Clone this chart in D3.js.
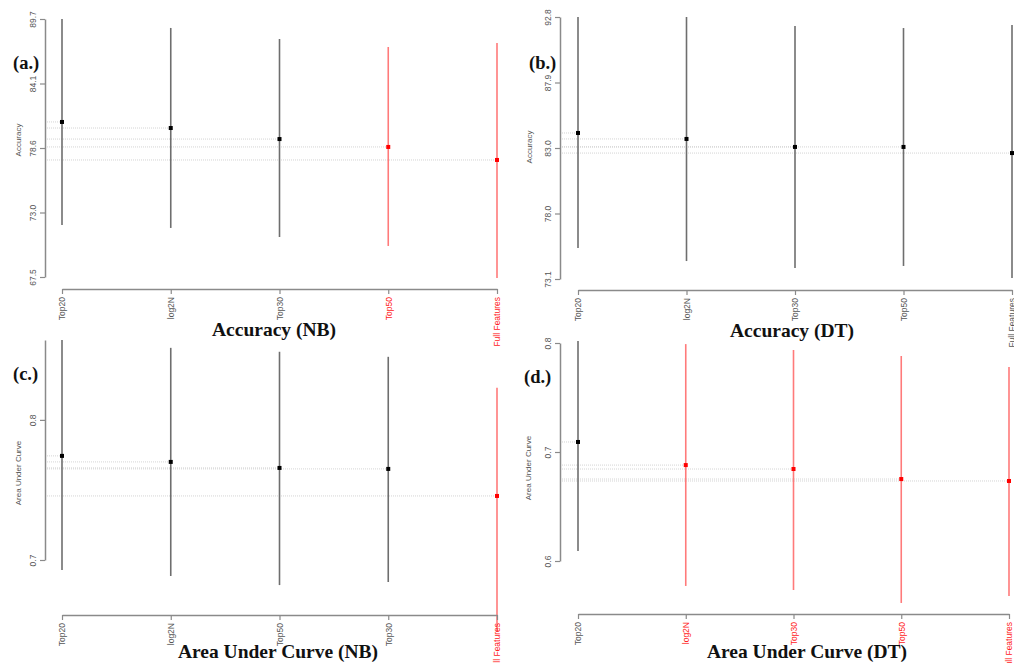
<!DOCTYPE html>
<html>
<head>
<meta charset="utf-8">
<script src="https://cdn.jsdelivr.net/npm/d3@7"></script>
<style>
  body { margin: 0; background: #fff; }
  svg { display: block; }
</style>
</head>
<body>
<div id="chart"></div>
<script>
// Data
let nbAccCats = ["Top20", "log2N", "Top30", "Top50", "Full Features"];
let nbAccMean = [80.84, 80.32, 79.37, 78.69, 77.57];
let nbAccLow = [71.97, 71.72, 70.94, 70.17, 67.41];
let nbAccHigh = [89.7, 88.93, 87.98, 87.29, 87.63];
let nbAccRed = [false, false, false, true, true];
let nbAccTicks = [67.5, 73.05, 78.6, 84.15, 89.7];
let nbAccTickLabels = ["67.5", "73.0", "78.6", "84.1", "89.7"];

let dtAccCats = ["Top20", "log2N", "Top30", "Top50", "Full Features"];
let dtAccMean = [84.08, 83.63, 83.03, 83.03, 82.57];
let dtAccLow = [75.43, 74.45, 73.93, 74.08, 73.17];
let dtAccHigh = [92.8, 92.8, 92.12, 91.97, 92.2];
let dtAccRed = [false, false, false, false, false];
let dtAccTicks = [73.1, 78.025, 82.95, 87.875, 92.8];
let dtAccTickLabels = ["73.1", "78.0", "83.0", "87.9", "92.8"];

let nbAucCats = ["Top20", "log2N", "Top50", "Top30", "Full Features"];
let nbAucMean = [0.7743, 0.770, 0.7657, 0.765, 0.7457];
let nbAucLow = [0.6929, 0.6886, 0.6821, 0.6843, 0.6486];
let nbAucHigh = [0.857, 0.8514, 0.8486, 0.845, 0.8229];
let nbAucRed = [false, false, false, false, true];
let nbAucTicks = [0.7, 0.8];
let nbAucTickLabels = ["0.7", "0.8"];

let dtAucCats = ["Top20", "log2N", "Top30", "Top50", "Full Features"];
let dtAucMean = [0.7092, 0.688, 0.6844, 0.6752, 0.6734];
let dtAucLow = [0.6092, 0.5771, 0.5734, 0.5615, 0.5679];
let dtAucHigh = [0.8018, 0.799, 0.7936, 0.7881, 0.778];
let dtAucRed = [false, true, true, true, true];
let dtAucTicks = [0.6, 0.7, 0.8];
let dtAucTickLabels = ["0.6", "0.7", "0.8"];

let width = 1014;
let height = 663;

let svg = d3.select("#chart")
    .append("svg")
    .attr("width", width)
    .attr("height", height);

let sans = "'Liberation Sans', Arial, sans-serif";
let serif = "'Liberation Serif', 'Times New Roman', serif";
let axisColor = "#8a8a8a";

function drawPanel(p) {
    let g = svg.append("g");

    // Scales
    let xScale = d3.scalePoint()
        .domain(p.cats)
        .range([p.x0, p.x1]);

    let yScale = d3.scaleLinear()
        .domain(p.yDomain)
        .range([p.yBottom, p.yTop]);

    // Reference lines from the axis to each point
    g.selectAll(".ref")
        .data(p.cats)
        .enter()
        .append("line")
        .attr("x1", p.axisX)
        .attr("x2", (d, i) => xScale(d))
        .attr("y1", (d, i) => yScale(p.mean[i]))
        .attr("y2", (d, i) => yScale(p.mean[i]))
        .attr("stroke", "#cfcfcf")
        .attr("stroke-width", 0.9)
        .attr("stroke-dasharray", "1,1");

    // Interval bars
    g.selectAll(".bar")
        .data(p.cats)
        .enter()
        .append("line")
        .attr("x1", d => xScale(d))
        .attr("x2", d => xScale(d))
        .attr("y1", (d, i) => yScale(p.low[i]))
        .attr("y2", (d, i) => yScale(p.high[i]))
        .attr("stroke", (d, i) => p.red[i] ? "#ff7a7a" : "#6e6e6e")
        .attr("stroke-width", 1.6);

    // Mean points
    g.selectAll(".pt")
        .data(p.cats)
        .enter()
        .append("rect")
        .attr("x", d => xScale(d) - 2)
        .attr("y", (d, i) => yScale(p.mean[i]) - 2)
        .attr("width", 4)
        .attr("height", 4)
        .attr("fill", (d, i) => p.red[i] ? "#f00" : "#000");

    // Y axis
    let yAxis = g.append("g")
        .attr("transform", "translate(" + p.axisX + ",0)")
        .call(d3.axisLeft(yScale)
            .tickValues(p.ticks)
            .tickFormat((d, i) => p.tickLabels[i])
            .tickSize(5)
            .tickSizeOuter(0));
    yAxis.select(".domain").attr("stroke", axisColor).attr("stroke-width", 1.5);
    yAxis.selectAll(".tick line").attr("stroke", axisColor).attr("stroke-width", 1.2);
    yAxis.selectAll(".tick text")
        .attr("x", 0)
        .attr("dy", 0)
        .attr("transform", "translate(-9,0) rotate(-90)")
        .attr("text-anchor", "middle")
        .attr("fill", "#555")
        .style("font-family", sans)
        .style("font-size", "8.5px");

    // X axis
    let xAxis = g.append("g")
        .attr("transform", "translate(0," + p.axisY + ")")
        .call(d3.axisBottom(xScale).tickSize(5).tickSizeOuter(0));
    xAxis.select(".domain").attr("stroke", axisColor).attr("stroke-width", 1.5);
    xAxis.selectAll(".tick line").attr("stroke", axisColor).attr("stroke-width", 1.2);
    xAxis.selectAll(".tick text")
        .attr("x", -8)
        .attr("y", 0)
        .attr("dy", "0.35em")
        .attr("transform", "rotate(-90)")
        .attr("text-anchor", "end")
        .attr("fill", (d, i) => p.red[i] ? "#f22" : "#555")
        .style("font-family", sans)
        .style("font-size", "8.5px");

    // Y axis title
    g.append("text")
        .attr("transform", "translate(" + p.yTitleX + "," + p.yTitleY + ") rotate(-90)")
        .attr("text-anchor", "middle")
        .attr("fill", "#555")
        .style("font-family", sans)
        .style("font-size", "8px")
        .text(p.yTitle);

    // Panel title
    g.append("text")
        .attr("x", p.titleX)
        .attr("y", p.titleY)
        .attr("text-anchor", "middle")
        .attr("fill", "#111")
        .style("font-family", serif)
        .style("font-weight", "bold")
        .style("font-size", "19.5px")
        .text(p.title);

    // Panel letter
    g.append("text")
        .attr("x", p.tagX)
        .attr("y", p.tagY)
        .attr("fill", "#111")
        .style("font-family", serif)
        .style("font-weight", "bold")
        .style("font-size", "18.5px")
        .text(p.tag);
}

drawPanel({
    cats: nbAccCats, mean: nbAccMean, low: nbAccLow, high: nbAccHigh, red: nbAccRed,
    ticks: nbAccTicks, tickLabels: nbAccTickLabels, yDomain: [67.5, 89.7],
    x0: 62, x1: 497, yTop: 19, yBottom: 277, axisX: 45, axisY: 289,
    yTitle: "Accuracy", yTitleX: 21, yTitleY: 140,
    title: "Accuracy (NB)", titleX: 274, titleY: 336,
    tag: "(a.)", tagX: 13, tagY: 69
});

drawPanel({
    cats: dtAccCats, mean: dtAccMean, low: dtAccLow, high: dtAccHigh, red: dtAccRed,
    ticks: dtAccTicks, tickLabels: dtAccTickLabels, yDomain: [73.1, 92.8],
    x0: 578, x1: 1012, yTop: 17, yBottom: 279, axisX: 560, axisY: 290,
    yTitle: "Accuracy", yTitleX: 532, yTitleY: 147,
    title: "Accuracy (DT)", titleX: 792, titleY: 337,
    tag: "(b.)", tagX: 529, tagY: 69
});

drawPanel({
    cats: nbAucCats, mean: nbAucMean, low: nbAucLow, high: nbAucHigh, red: nbAucRed,
    ticks: nbAucTicks, tickLabels: nbAucTickLabels, yDomain: [0.7, 0.857],
    x0: 62, x1: 497, yTop: 340, yBottom: 560, axisX: 45, axisY: 615,
    yTitle: "Area Under Curve", yTitleX: 21, yTitleY: 473,
    title: "Area Under Curve (NB)", titleX: 278, titleY: 658,
    tag: "(c.)", tagX: 13, tagY: 380
});

drawPanel({
    cats: dtAucCats, mean: dtAucMean, low: dtAucLow, high: dtAucHigh, red: dtAucRed,
    ticks: dtAucTicks, tickLabels: dtAucTickLabels, yDomain: [0.6, 0.8],
    x0: 578, x1: 1009, yTop: 343, yBottom: 561, axisX: 560, axisY: 614,
    yTitle: "Area Under Curve", yTitleX: 531, yTitleY: 468,
    title: "Area Under Curve (DT)", titleX: 807, titleY: 658,
    tag: "(d.)", tagX: 524, tagY: 383
});
</script>
</body>
</html>
